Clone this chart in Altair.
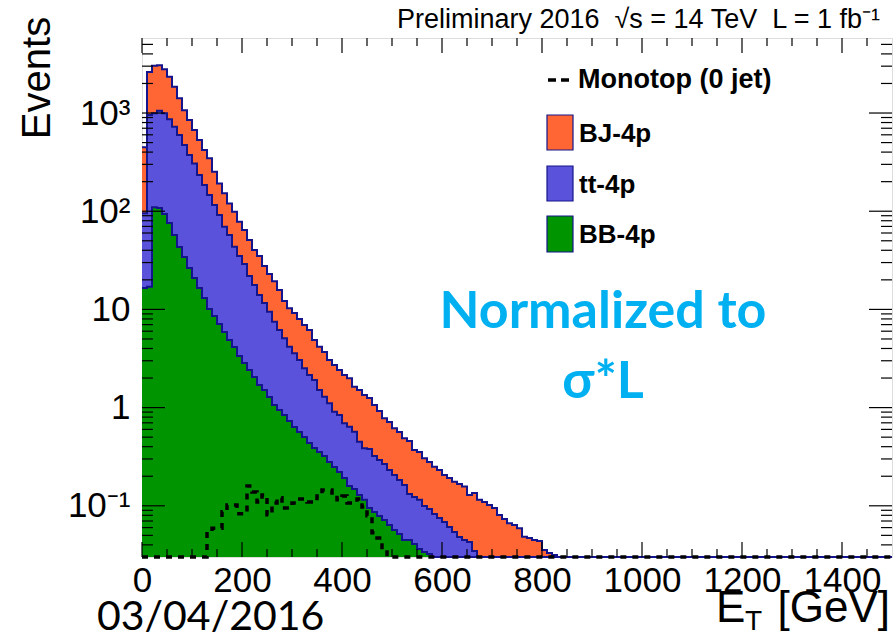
import altair as alt
import pandas as pd

# ---------------- data ----------------
BIN_WIDTH = 10          # GeV
N_BINS = 150            # 0 .. 1500 GeV
Y_MIN = 0.0301
Y_MAX = 5808

# top of the full stack (BB-4p + tt-4p + BJ-4p), one value per 10 GeV bin
stack_all = [448, 2620, 3035, 3060, 2790, 2340, 1850, 1410, 1070, 849,
             672, 531, 420, 346, 253, 192, 152, 120, 98.8, 78.2,
             64.4, 50.9, 40.3, 35.0, 27.7, 22.9, 19.4, 15.8, 12.2, 10.3,
             9.19, 7.98, 6.93, 6.17, 4.88, 4.17, 3.68, 3.05, 2.72, 2.42,
             2.15, 1.99, 1.63, 1.51, 1.34, 1.25, 1.06, 0.922, 0.778, 0.713,
             0.615, 0.565, 0.487, 0.457, 0.370, 0.353, 0.305, 0.279, 0.250, 0.232,
             0.206, 0.192, 0.176, 0.167, 0.157, 0.129, 0.135, 0.115, 0.109, 0.102,
             0.095, 0.0806, 0.0734, 0.0664, 0.0637, 0.059, 0.0484, 0.047, 0.0449, 0.0438,
             0.0355, 0.033, 0.0315]

# top of BB-4p + tt-4p
stack_tt_bb = [95.3, 954, 993, 1055, 993, 863, 725, 597, 472, 373,
               307, 234, 185, 146, 116, 91.4, 69.5, 57.3, 43.5, 35.0,
               29.0, 21.9, 17.7, 14.0, 11.6, 9.48, 7.50, 6.17, 5.08, 4.17,
               3.57, 3.05, 2.51, 2.15, 1.91, 1.51, 1.29, 1.11, 0.908, 0.841,
               0.692, 0.640, 0.569, 0.450, 0.385, 0.379, 0.321, 0.292, 0.267, 0.232,
               0.206, 0.183, 0.163, 0.132, 0.123, 0.115, 0.0995, 0.0927, 0.0824, 0.0751,
               0.0684, 0.0608, 0.0541, 0.0481, 0.0449, 0.0428, 0.0347]

# BB-4p alone
stack_bb = [16.5, 17, 110, 108, 93.6, 75.8, 57.3, 43.2, 34.2, 26.4,
            20.9, 16.5, 13.1, 10.1, 8.57, 7.10, 5.89, 4.88, 4.14, 3.35,
            2.84, 2.41, 2.05, 1.70, 1.51, 1.28, 1.06, 0.946, 0.841, 0.731,
            0.634, 0.565, 0.502, 0.436, 0.388, 0.353, 0.321, 0.279, 0.248, 0.221,
            0.192, 0.159, 0.148, 0.129, 0.115, 0.095, 0.0865, 0.0787, 0.0716, 0.0637,
            0.0567, 0.0516, 0.0449, 0.0449, 0.0408, 0.0363, 0.0339, 0.0323]

# Monotop (0 jet) signal
monotop = [0, 0, 0, 0, 0, 0, 0, 0, 0, 0,
           0, 0, 0, 0.055, 0.059, 0.059, 0.087, 0.102, 0.102, 0.083,
           0.083, 0.159, 0.138, 0.109, 0.129, 0.081, 0.107, 0.121, 0.095, 0.095,
           0.107, 0.117, 0.117, 0.109, 0.109, 0.126, 0.145, 0.145, 0.135, 0.115,
           0.126, 0.107, 0.107, 0.117, 0.097, 0.079, 0.053, 0.047, 0.036]

x_label_values = [0, 200, 400, 600, 800, 1000, 1200, 1400]
x_minor_ticks = [v for v in range(50, 1500, 50) if v % 200 != 0]
y_label_values = [0.1, 1, 10, 100, 1000]
y_minor_ticks = [k * 10.0 ** e for e in range(-2, 4) for k in range(2, 10)
                 if Y_MIN < k * 10.0 ** e < Y_MAX]

legend_labels = ["BJ-4p", "tt-4p", "BB-4p"]
legend_colors = ["#FF6633", "#5A52DA", "#009400"]
NAVY = "#14148C"

# ---------------- layout ----------------
PLOT_W, PLOT_H = 750, 519
FONT = "Liberation Sans"
NB = "\u00a0"


def padded(vals):
    return list(vals) + [0] * (N_BINS - len(vals))


rows = []
for name, vals in [("all", stack_all), ("ttbb", stack_tt_bb), ("bb", stack_bb), ("mono", monotop)]:
    v = padded(vals)
    for i in range(N_BINS):
        rows.append({"series": name, "x": i * BIN_WIDTH, "v": v[i]})
    rows.append({"series": name, "x": N_BINS * BIN_WIDTH, "v": 0})
df = pd.DataFrame(rows)

xs = alt.Scale(domain=[0, 1500], nice=False, zero=False)
ys = alt.Scale(type="log", domain=[Y_MIN, Y_MAX], nice=False)

x_axis = alt.Axis(values=x_label_values, format="d", labelFont=FONT, labelFontSize=35,
                  labelColor="black", labelPadding=6, labelFlush=False, ticks=False,
                  domain=False, grid=False, title=None, labelOverlap=False)
y_axis = alt.Axis(values=y_label_values,
                  labelExpr="datum.value >= 999 ? '10³' : datum.value >= 99 ? '10²' : "
                            "datum.value >= 9 ? '10' : datum.value >= 0.9 ? '1' : '10⁻¹'",
                  labelFont=FONT, labelFontSize=35, labelColor="black", labelPadding=12,
                  ticks=False, domain=False, grid=False, title=None, labelOverlap=False)

X = alt.X("x:Q", scale=xs, axis=x_axis)
Y = alt.Y("yv:Q", scale=ys, axis=y_axis, stack=None)
Y2 = alt.Y2("y0:Q")

base = alt.Chart(df)


def hist(series, fill):
    src = base.transform_filter(alt.datum.series == series).transform_calculate(
        yv=f"max(datum.v, {Y_MIN})", y0=f"{Y_MIN}")
    area = src.mark_area(interpolate="step-after", color=fill, opacity=1).encode(
        x=X, y=Y, y2=Y2)
    line = src.mark_line(interpolate="step-after", color=NAVY, strokeWidth=2).encode(x=X, y=Y)
    return [area, line]


layers = []
layers += hist("all", legend_colors[0])
layers += hist("ttbb", legend_colors[1])
layers += hist("bb", legend_colors[2])

mono = base.transform_filter(alt.datum.series == "mono").transform_calculate(
    yv=f"max(datum.v, {Y_MIN})").mark_line(
    interpolate="step-after", color="black", strokeWidth=3.5, strokeDash=[6, 6]).encode(x=X, y=Y)
layers.append(mono)

# inward ROOT-style ticks
xmaj = alt.Chart(pd.DataFrame({"x": x_label_values}))
xmin = alt.Chart(pd.DataFrame({"x": x_minor_ticks}))
ymaj = alt.Chart(pd.DataFrame({"yv": y_label_values}))
ymin = alt.Chart(pd.DataFrame({"yv": y_minor_ticks}))
tick = dict(color="black", strokeWidth=1.2)
layers += [
    xmaj.mark_rule(**tick).encode(x=X, y=alt.value(PLOT_H), y2=alt.value(PLOT_H - 15)),
    xmin.mark_rule(**tick).encode(x=X, y=alt.value(PLOT_H), y2=alt.value(PLOT_H - 8)),
    xmaj.mark_rule(**tick).encode(x=X, y=alt.value(0), y2=alt.value(15)),
    xmin.mark_rule(**tick).encode(x=X, y=alt.value(0), y2=alt.value(8)),
    ymaj.mark_rule(**tick).encode(y=Y, x=alt.value(0), x2=alt.value(23)),
    ymin.mark_rule(**tick).encode(y=Y, x=alt.value(0), x2=alt.value(11)),
    ymaj.mark_rule(**tick).encode(y=Y, x=alt.value(PLOT_W), x2=alt.value(PLOT_W - 23)),
    ymin.mark_rule(**tick).encode(y=Y, x=alt.value(PLOT_W), x2=alt.value(PLOT_W - 11)),
]

one = alt.Chart(pd.DataFrame({"a": [0]}))


def text(t, x, y, size, font=FONT, weight="normal", align="left", baseline="alphabetic",
         color="black", angle=0):
    kw = dict(text=t, font=font, fontSize=size, fontWeight=weight, align=align,
              baseline=baseline, color=color)
    if angle:
        kw["angle"] = angle
    return one.mark_text(**kw).encode(x=alt.value(x), y=alt.value(y))


# legend
legend_y = [[77, 112], [128, 163], [178, 214]]
for lab, col, (y0, y1) in zip(legend_labels, legend_colors, legend_y):
    layers.append(one.mark_rect(color=col, stroke=NAVY, strokeWidth=1.2).encode(
        x=alt.value(405), x2=alt.value(431), y=alt.value(y0), y2=alt.value(y1)))
    layers.append(text(lab, 437, (y0 + y1) / 2 + 1, 26, weight="bold", baseline="middle"))
layers.append(one.mark_rule(color="black", strokeWidth=3.5, strokeDash=[8, 5]).encode(
    x=alt.value(406), x2=alt.value(432), y=alt.value(42)))
layers.append(text("Monotop (0 jet)", 436, 42, 27, weight="bold", baseline="middle"))

# annotations
layers += [
    text(f"Preliminary 2016{NB}{NB}√s = 14 TeV{NB}{NB}L = 1 fb⁻¹", 738, -10, 27, align="right"),
    text("Events", -92, 40, 40, angle=270, align="center"),
    text("Normalized to", 461, 290, 52, font="Lato", weight="bold", align="center",
         color="#00B0F0"),
    text("σ*L", 461, 360, 52, font="Lato", weight="bold", align="center", color="#00B0F0"),
    text("E", 574, 584, 44),
    text("T", 603, 592, 28),
    text("[GeV]", 748, 584, 44, align="right"),
    text("03/04/2016", -45, 592, 41, font="Lato"),
]

chart = alt.layer(*layers).properties(
    width=PLOT_W, height=PLOT_H,
    autosize=alt.AutoSizeParams(type="none"),
    padding={"left": 142, "top": 38, "right": 4, "bottom": 78},
).configure_view(stroke="black", strokeWidth=2).configure(background="white")

chart.save("out.html", embed_options={"renderer": "svg", "actions": False})
